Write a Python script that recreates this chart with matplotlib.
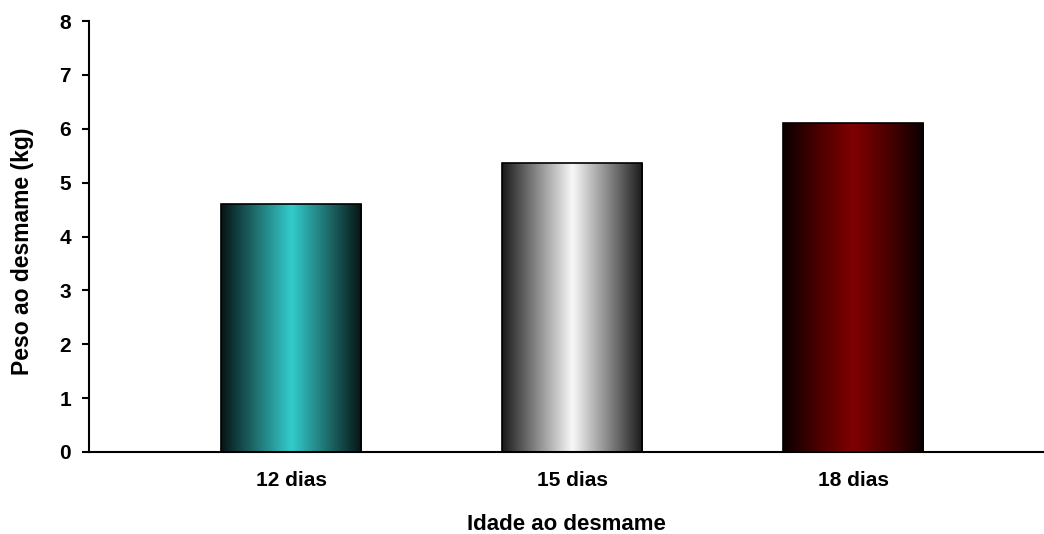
import numpy as np
import matplotlib.pyplot as plt
from matplotlib.colors import LinearSegmentedColormap

categories = ['12 dias', '15 dias', '18 dias']
peso = [4.60, 5.36, 6.10]
yticks = [0, 1, 2, 3, 4, 5, 6, 7, 8]

# gradient colours per bar: edge -> centre -> edge
gradients = [
    ['#061414', '#1f7070', '#33cccc', '#1f7070', '#061414'],
    ['#1a1a1a', '#8a8a8a', '#f8f8f8', '#8a8a8a', '#1a1a1a'],
    ['#0a0000', '#4a0000', '#800000', '#4a0000', '#0a0000'],
]

plt.rcParams['font.family'] = ['Liberation Sans', 'DejaVu Sans']
plt.rcParams['font.weight'] = 'bold'

fig = plt.figure(figsize=(10.44, 5.34), dpi=100)
ax = fig.add_axes([0.0853, 0.1536, 0.9147, 0.807])

x = np.arange(len(categories))
bars = ax.bar(x, peso, width=0.5, facecolor='none', edgecolor='black', linewidth=1.2, zorder=3)

grad = np.linspace(0, 1, 256).reshape(1, -1)
for rect, cols in zip(bars, gradients):
    cmap = LinearSegmentedColormap.from_list('g', cols)
    x0, y0 = rect.get_x(), rect.get_y()
    w, h = rect.get_width(), rect.get_height()
    ax.imshow(grad, cmap=cmap, aspect='auto', extent=(x0, x0 + w, y0, y0 + h), zorder=2)

ax.set_xlim(-0.72, 2.68)
ax.set_ylim(0, 8)
ax.set_yticks(yticks)
ax.set_xticks(x)
ax.set_xticklabels(categories)

for s in ['top', 'right']:
    ax.spines[s].set_visible(False)
ax.spines['left'].set_linewidth(1.5)
ax.spines['bottom'].set_linewidth(1.5)
ax.tick_params(axis='y', direction='out', length=5, width=1.5, labelsize=15, pad=8)
ax.tick_params(axis='x', length=0, labelsize=15, pad=14)

ax.set_xlabel('Idade ao desmame', fontsize=16, fontweight='bold', labelpad=17)
ax.set_ylabel('Peso ao desmame (kg)', fontsize=16.5, fontweight='bold')
ax.yaxis.set_label_coords(-0.058, 0.466)

fig.savefig('out.png', dpi=100)
